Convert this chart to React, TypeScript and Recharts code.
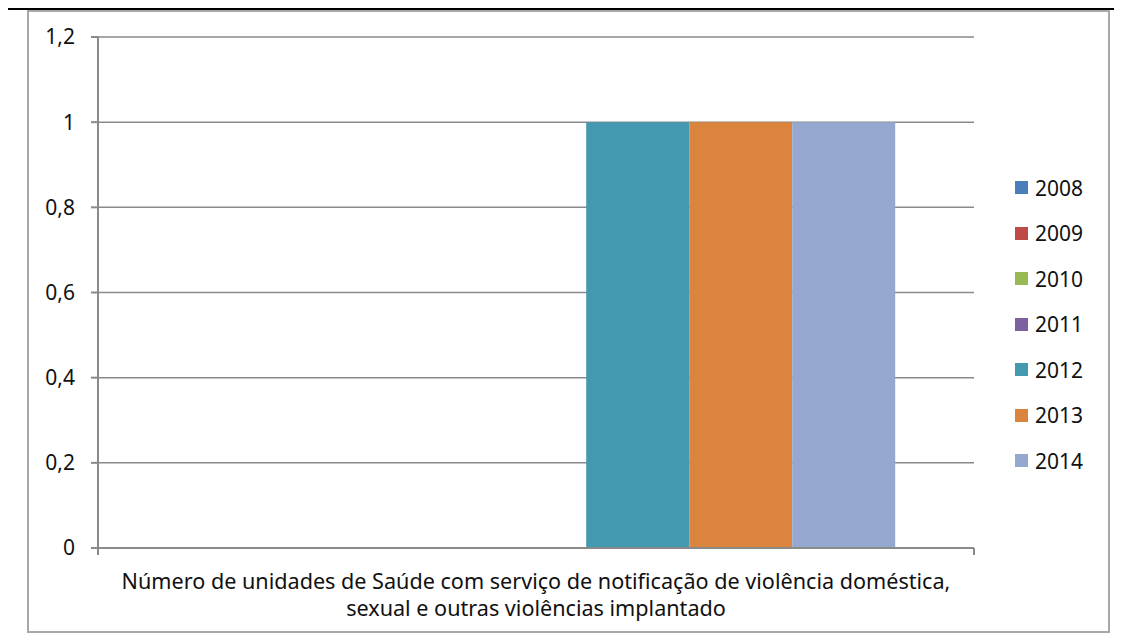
import { BarChart, Bar, XAxis, YAxis, CartesianGrid, Legend } from 'recharts'

const categories = [
  'Número de unidades de Saúde com serviço de notificação de violência doméstica,|sexual e outras violências implantado',
]
const years = ['2008', '2009', '2010', '2011', '2012', '2013', '2014']
const values = [0, 0, 0, 0, 1, 1, 1]
const colors = ['#4a7ebb', '#be4b48', '#98b954', '#7d60a0', '#4399af', '#db843d', '#95a9d0']
const yTicks = [0, 0.2, 0.4, 0.6, 0.8, 1, 1.2]

const data = categories.map((name) => {
  const row: Record<string, string | number> = { name }
  years.forEach((y, i) => {
    row[y] = values[i]
  })
  return row
})

const FONT = '"Noto Sans", sans-serif'
const AXIS = '#8a8a8a'

function CategoryTick(props: any) {
  const { x, y, payload } = props
  const half = payload.offset ?? 0
  const [line1, line2] = String(payload.value).split('|')
  return (
    <g>
      <line x1={x - half} y1={y - 8} x2={x - half} y2={y - 1} stroke={AXIS} strokeWidth={2} />
      <line x1={x + half} y1={y - 8} x2={x + half} y2={y - 1} stroke={AXIS} strokeWidth={2} />
      <text x={x} y={y + 33} textAnchor="middle" fontSize={21.6} fontFamily={FONT} fill="#111">
        {line1}
      </text>
      <text x={x} y={y + 60} textAnchor="middle" fontSize={21.6} fontFamily={FONT} fill="#111">
        {line2}
      </text>
    </g>
  )
}

function YearLegend() {
  return (
    <div style={{ fontFamily: FONT }}>
      {years.map((y, i) => (
        <div key={y} style={{ display: 'flex', alignItems: 'center', height: 45.5 }}>
          <span style={{ width: 13, height: 13, background: colors[i], display: 'inline-block', marginRight: 7 }} />
          <span style={{ fontSize: 21, color: '#111' }}>{y}</span>
        </div>
      ))}
    </div>
  )
}

export default function App() {
  return (
    <div style={{ position: 'relative', width: 1122, height: 641, margin: -8, background: '#fff' }}>
      <div style={{ position: 'absolute', left: 7, top: 8, right: 0, height: 2, background: '#000' }} />
      <div style={{ position: 'absolute', left: 7, top: 8, width: 1, bottom: 0, background: '#000' }} />
      <div
        style={{
          position: 'absolute',
          left: 27,
          top: 10,
          width: 1083,
          height: 623,
          border: '2px solid #a8a8a8',
          boxSizing: 'border-box',
        }}
      />
      <div style={{ position: 'absolute', left: 0, top: 0 }}>
        <BarChart
          width={1122}
          height={641}
          data={data}
          margin={{ top: 37, right: 148, left: 0, bottom: 33 }}
          barCategoryGap="8.7%"
          barGap={0}
        >
          <CartesianGrid vertical={false} stroke={AXIS} strokeWidth={1.5} />
          <XAxis
            dataKey="name"
            height={60}
            stroke={AXIS}
            strokeWidth={2}
            tickLine={false}
            tick={<CategoryTick />}
            interval={0}
          />
          <YAxis
            width={98}
            domain={[0, 1.2]}
            ticks={yTicks}
            interval={0}
            stroke={AXIS}
            strokeWidth={2}
            tickSize={7}
            tickMargin={16}
            tick={{ fontSize: 21, fontFamily: FONT, fill: '#111' }}
            tickFormatter={(v: number) => String(Math.round(v * 10) / 10).replace('.', ',')}
          />
          <Legend
            layout="vertical"
            align="center"
            verticalAlign="middle"
            content={<YearLegend />}
            wrapperStyle={{ left: 1015, top: 165, width: 100 }}
          />
          {years.map((y, i) => (
            <Bar key={y} dataKey={y} fill={colors[i]} isAnimationActive={false} />
          ))}
        </BarChart>
      </div>
    </div>
  )
}
